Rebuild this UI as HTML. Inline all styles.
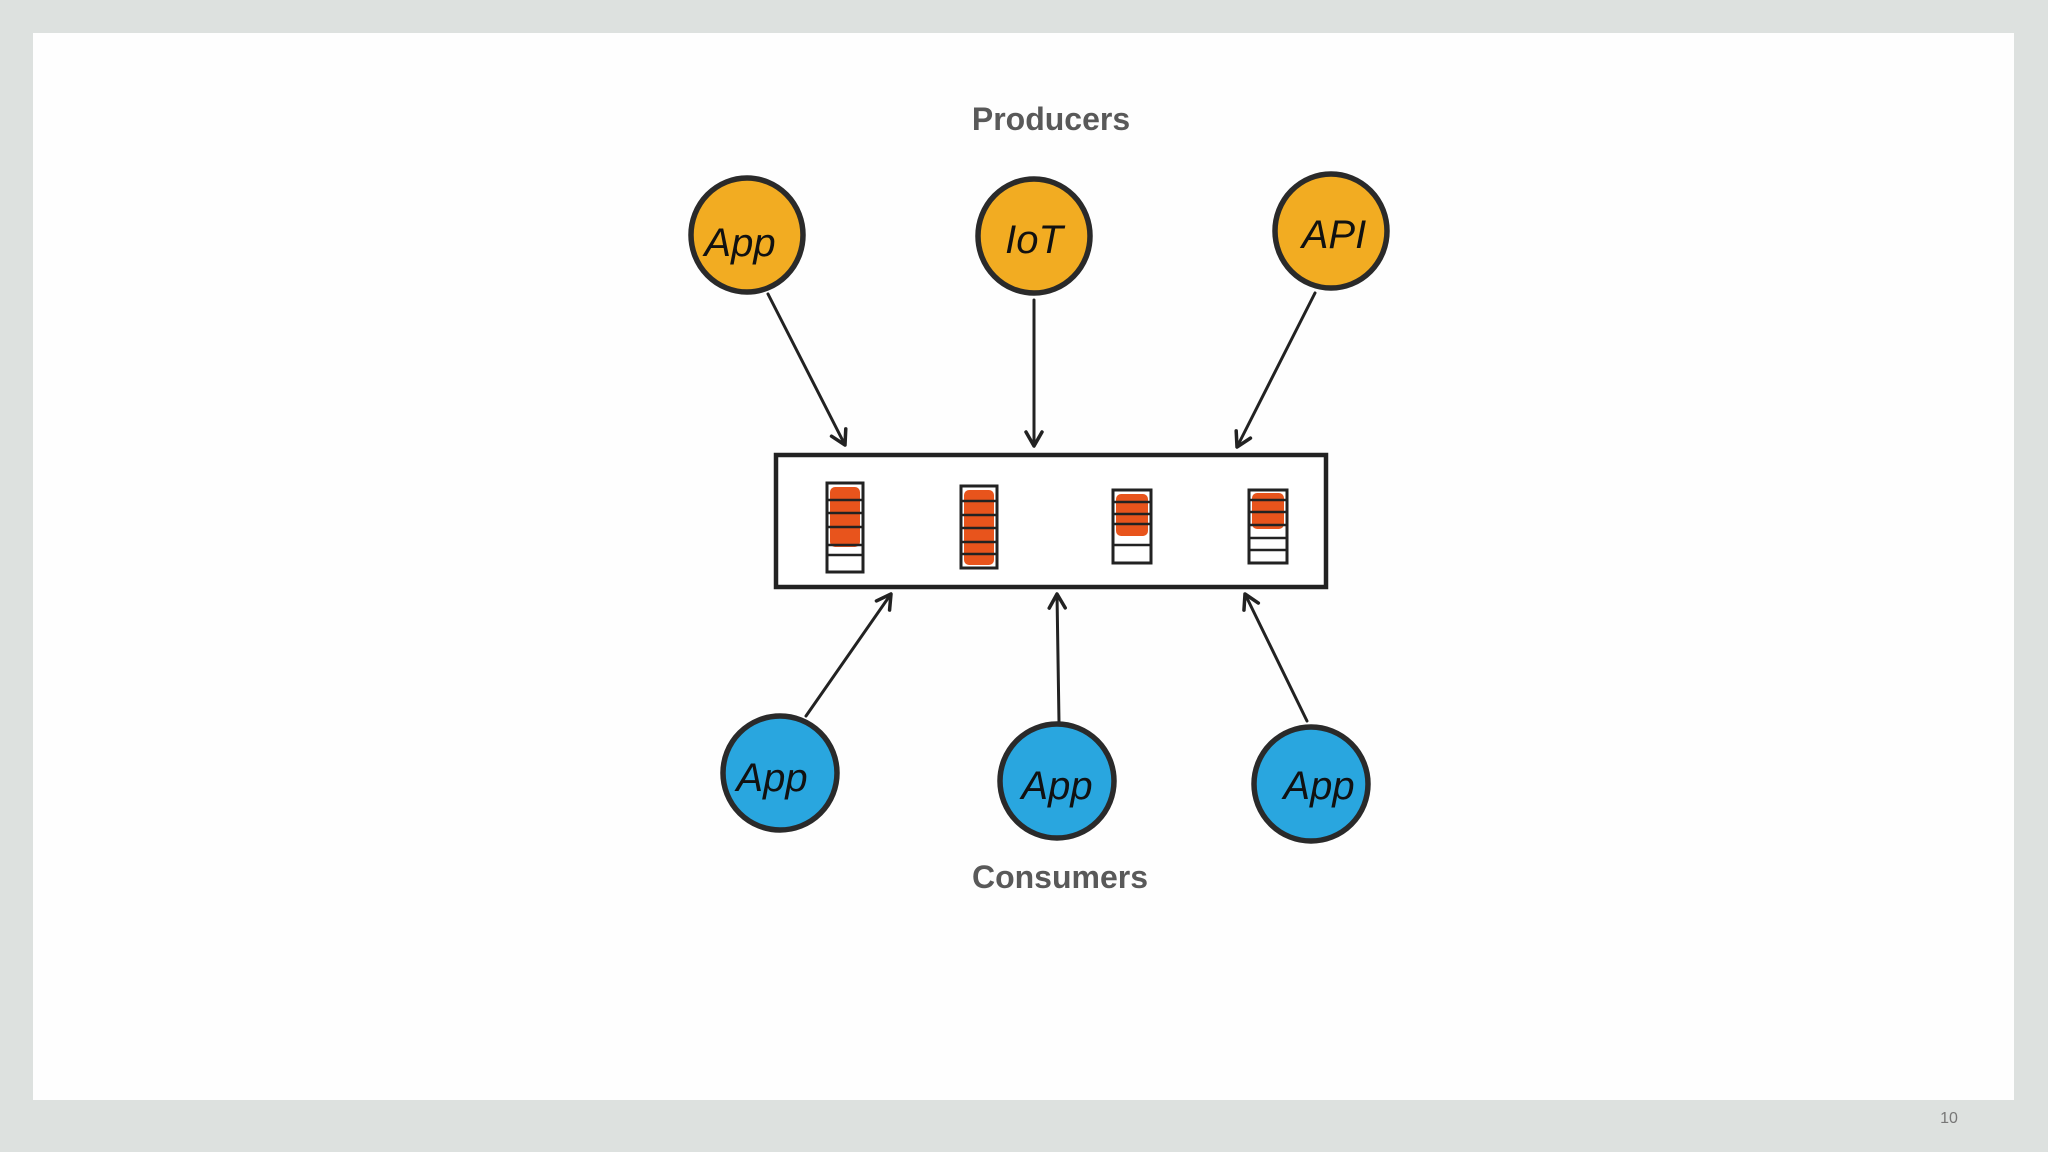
<!DOCTYPE html>
<html><head><meta charset="utf-8"><style>
html,body{margin:0;padding:0;width:2048px;height:1152px;background:#dde1df;overflow:hidden}
svg{display:block}
</style></head><body>
<svg width="2048" height="1152" viewBox="0 0 2048 1152" xmlns="http://www.w3.org/2000/svg">
<defs>
<marker id="ah" viewBox="0 0 20 20" refX="16" refY="10" markerWidth="20" markerHeight="20" markerUnits="userSpaceOnUse" orient="auto">
<path d="M2,2 L16,10 L2,18" fill="none" stroke="#222" stroke-width="3.5" stroke-linecap="round" stroke-linejoin="round"/>
</marker>
</defs>
<rect x="33" y="33" width="1981" height="1067" fill="#fefefe"/>
<g font-family="Liberation Sans, sans-serif" font-weight="bold" fill="#595959" font-size="32" text-anchor="middle">
<text x="1051" y="130">Producers</text>
<text x="1060" y="888">Consumers</text>
</g>
<text x="1949" y="1123" font-family="Liberation Sans, sans-serif" font-size="16" fill="#777" text-anchor="middle">10</text>
<g stroke="#222" stroke-width="3" fill="none" stroke-linecap="round" marker-end="url(#ah)">
<line x1="768" y1="294" x2="845" y2="445"/>
<line x1="1034" y1="300" x2="1034" y2="446"/>
<line x1="1315" y1="293" x2="1237" y2="447"/>
<line x1="806" y1="716" x2="891" y2="594"/>
<line x1="1059" y1="722" x2="1057" y2="594"/>
<line x1="1307" y1="721" x2="1245" y2="594"/>
</g>
<rect x="776" y="455" width="550" height="132" fill="#fff" stroke="#222" stroke-width="4.5"/>
<g stroke="#222" stroke-width="3" fill="#fff">
<rect x="827" y="483" width="36" height="89"/>
<rect x="961" y="486" width="36" height="82"/>
<rect x="1113" y="490" width="38" height="73"/>
<rect x="1249" y="490" width="38" height="73"/>
</g>
<g fill="#e8541c">
<rect x="830" y="487" width="30" height="60" rx="5"/>
<rect x="964" y="490" width="30" height="75" rx="5"/>
<rect x="1116" y="494" width="32" height="42" rx="5"/>
<rect x="1252" y="493" width="32" height="36" rx="5"/>
</g>
<g stroke="#222" stroke-width="2.5">
<line x1="827" y1="500" x2="863" y2="500"/><line x1="827" y1="513" x2="863" y2="513"/><line x1="827" y1="527" x2="863" y2="527"/><line x1="827" y1="545" x2="863" y2="545"/><line x1="827" y1="555" x2="863" y2="555"/>
<line x1="961" y1="501" x2="997" y2="501"/><line x1="961" y1="515" x2="997" y2="515"/><line x1="961" y1="528" x2="997" y2="528"/><line x1="961" y1="542" x2="997" y2="542"/><line x1="961" y1="554" x2="997" y2="554"/>
<line x1="1113" y1="502" x2="1151" y2="502"/><line x1="1113" y1="514" x2="1151" y2="514"/><line x1="1113" y1="524" x2="1151" y2="524"/><line x1="1113" y1="545" x2="1151" y2="545"/>
<line x1="1249" y1="500" x2="1287" y2="500"/><line x1="1249" y1="512" x2="1287" y2="512"/><line x1="1249" y1="525" x2="1287" y2="525"/><line x1="1249" y1="538" x2="1287" y2="538"/><line x1="1249" y1="550" x2="1287" y2="550"/>
</g>
<g stroke="#2a2a2a" stroke-width="5.5">
<ellipse cx="747" cy="235" rx="56" ry="57" fill="#f2ac22"/>
<ellipse cx="1034" cy="236" rx="56" ry="57" fill="#f2ac22"/>
<ellipse cx="1331" cy="231" rx="56" ry="57" fill="#f2ac22"/>
<ellipse cx="780" cy="773" rx="57" ry="57" fill="#29a6df"/>
<ellipse cx="1057" cy="781" rx="57" ry="57" fill="#29a6df"/>
<ellipse cx="1311" cy="784" rx="57" ry="57" fill="#29a6df"/>
</g>
<g font-family="Liberation Sans, sans-serif" font-size="40" fill="#111" text-anchor="middle" font-style="italic">
<text x="740" y="256">App</text>
<text x="1034" y="253">IoT</text>
<text x="1334" y="248">API</text>
<text x="772" y="791">App</text>
<text x="1057" y="799">App</text>
<text x="1319" y="799">App</text>
</g>
</svg>
</body></html>
